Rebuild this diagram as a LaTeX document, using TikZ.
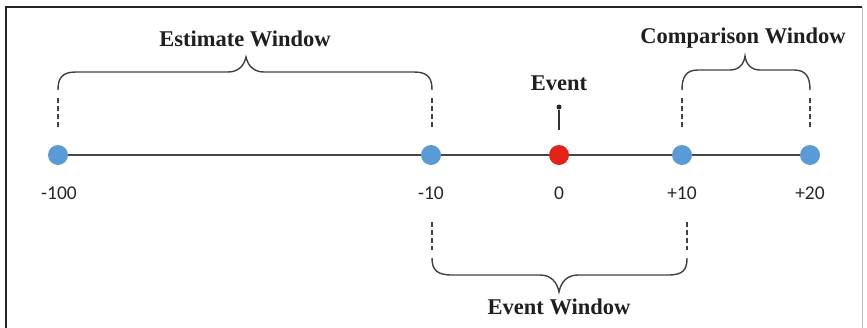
\documentclass[tikz,border=0pt]{standalone}
\usepackage{fontspec}
\setmainfont{Liberation Serif}
\newfontfamily\numfont{Carlito}
\begin{document}
\begin{tikzpicture}[x=1pt,y=-1pt,
  axis/.style={draw=black!72, line width=1.8pt},
  brace/.style={draw=black!75, line width=1.4pt},
  guide/.style={draw=black!75, line width=1.2pt, dash pattern=on 5pt off 3pt},
  pt/.style={circle, inner sep=0pt, minimum size=20pt},
  tick/.style={font=\numfont\fontsize{19.5}{22}\selectfont, text=black!85},
  title/.style={font=\bfseries\fontsize{22.5}{24}\selectfont, text=black!88}]
\definecolor{ptblue}{HTML}{5B9BD5}
\definecolor{ptred}{HTML}{E2231A}
\useasboundingbox (0,0) rectangle (867,327);
\draw[black!85, line width=2pt] (6,340) -- (6,7) -- (862,7);
\draw[black!25, line width=0.8pt] (862,7) -- (862,340);
% points
\node[pt, fill=ptblue] (p1) at (58,155) {};
\node[pt, fill=ptblue] (p2) at (431,155) {};
\node[pt, fill=ptred] (p3) at (559,155) {};
\node[pt, fill=ptblue] (p4) at (682,155) {};
\node[pt, fill=ptblue] (p5) at (810,155) {};
\draw[axis] (p1) -- (p2);
\draw[axis] (p2) -- (p3);
\draw[axis] (p3) -- (p4);
\draw[axis] (p4) -- (p5);
% tick labels
\node[tick] (l1) at (59,193) {-100};
\node[tick] (l2) at (431,193) {-10};
\node[tick] (l3) at (559,193) {0};
\node[tick] (l4) at (682,193) {+10};
\node[tick] (l5) at (810,193) {+20};
% estimate window
\coordinate (e1) at (58,98); \coordinate (e1b) at (58,128);
\coordinate (e2) at (432,98); \coordinate (e2b) at (432,128);
\draw[guide] (e1) -- (e1b);
\draw[guide] (e2) -- (e2b);
\draw[brace] (58,90) .. controls (58,78) and (62,72) .. (76,72) -- (228,72)
  .. controls (238,72) and (244,66) .. (246,57)
  .. controls (248,66) and (254,72) .. (264,72) -- (414,72)
  .. controls (428,72) and (432,78) .. (432,90);
\node[title] (tE) at (245,39) {Estimate Window};
% comparison window
\coordinate (c1) at (682,98); \coordinate (c1b) at (682,128);
\coordinate (c2) at (810,98); \coordinate (c2b) at (810,128);
\draw[guide] (c1) -- (c1b);
\draw[guide] (c2) -- (c2b);
\draw[brace] (682,90) .. controls (682,77) and (686,70) .. (698,70) -- (730,70)
  .. controls (739,70) and (744,64) .. (745,56)
  .. controls (746,64) and (751,70) .. (760,70) -- (794,70)
  .. controls (806,70) and (810,77) .. (810,90);
\node[title] (tC) at (743,38) {Comparison Window};
% event
\node[title] (tEv) at (559,83) {Event};
\node[circle, fill=black!85, inner sep=0pt, minimum size=5pt] (ed) at (559,107) {};
\coordinate (ee) at (559,130);
\draw[black!80, line width=1.4pt] (ed) -- (ee);
% event window
\coordinate (w1) at (432,222); \coordinate (w1b) at (432,250);
\coordinate (w2) at (687,222); \coordinate (w2b) at (687,250);
\draw[guide] (w1) -- (w1b);
\draw[guide] (w2) -- (w2b);
\draw[brace] (432,258) .. controls (432,270) and (437,275) .. (452,275) -- (540,275)
  .. controls (551,275) and (557,282) .. (559,292)
  .. controls (561,282) and (567,275) .. (578,275) -- (668,275)
  .. controls (683,275) and (687,270) .. (687,258);
\node[title] (tW) at (559,307) {Event Window};
\end{tikzpicture}
\end{document}
